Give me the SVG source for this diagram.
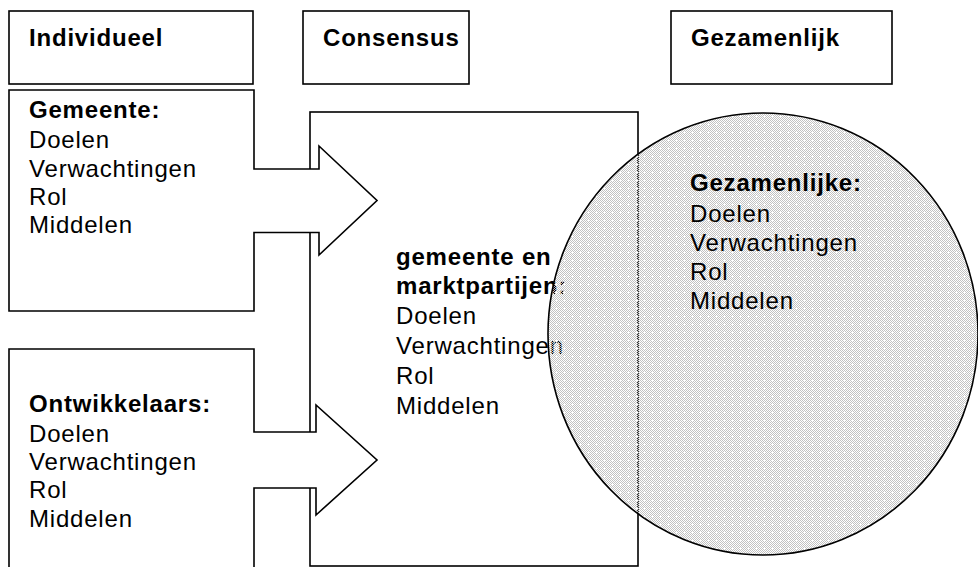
<svg xmlns="http://www.w3.org/2000/svg" width="978" height="567" viewBox="0 0 978 567">
  <defs>
    <pattern id="checker" patternUnits="userSpaceOnUse" width="2" height="2">
      <rect x="0" y="0" width="1" height="1" fill="#c2c2c2"/>
      <rect x="1" y="1" width="1" height="1" fill="#c2c2c2"/>
    </pattern>
    <pattern id="dots" patternUnits="userSpaceOnUse" width="8" height="8">
      <rect x="0" y="0" width="8" height="8" fill="url(#checker)"/>
      <rect x="3" y="4" width="3" height="1" fill="#ffffff"/>
      <rect x="4" y="3" width="1" height="3" fill="#ffffff"/>
    </pattern>
    <style>
      .box { fill: #ffffff; stroke: #000000; stroke-width: 1.6; }
      .t { font-family: "Liberation Sans", Arial, sans-serif; font-size: 24px; letter-spacing: 0.8px; fill: #000000; }
      .b { font-weight: bold; }
      .circle { fill: url(#dots); stroke: #000000; stroke-width: 1.6; }
    </style>
  </defs>
  <rect x="0" y="0" width="978" height="567" fill="#ffffff"/>

  <g id="hdr-individueel">
    <rect class="box" x="9" y="11" width="244" height="73"/>
    <text class="t b" x="29" y="46">Individueel</text>
  </g>
  <g id="hdr-consensus">
    <rect class="box" x="303" y="11" width="166" height="73"/>
    <text class="t b" x="323" y="46">Consensus</text>
  </g>
  <g id="hdr-gezamenlijk">
    <rect class="box" x="671" y="11" width="221" height="73"/>
    <text class="t b" x="691" y="46">Gezamenlijk</text>
  </g>

  <g id="consensus">
    <rect class="box" x="310" y="112" width="328" height="454"/>
    <text class="t b" x="396" y="265">gemeente en</text>
    <text class="t b" x="396" y="294">marktpartijen:</text>
    <text class="t" x="396" y="324">Doelen</text>
    <text class="t" x="396" y="354">Verwachtingen</text>
    <text class="t" x="396" y="384">Rol</text>
    <text class="t" x="396" y="414">Middelen</text>
  </g>

  <g id="gemeente">
    <path class="box" d="M9,90 H254 V169 H319 V146 L377,200.5 L319,255 V232.5 H254 V311 H9 Z"/>
    <text class="t b" x="29" y="118">Gemeente:</text>
    <text class="t" x="29" y="148">Doelen</text>
    <text class="t" x="29" y="176.5">Verwachtingen</text>
    <text class="t" x="29" y="204.5">Rol</text>
    <text class="t" x="29" y="233">Middelen</text>
  </g>

  <g id="ontwikkelaars">
    <path class="box" d="M9,349 H254 V432 H316 V405 L377,460 L316,515 V488 H254 V580 H9 Z"/>
    <text class="t b" x="29" y="412">Ontwikkelaars:</text>
    <text class="t" x="29" y="442">Doelen</text>
    <text class="t" x="29" y="470">Verwachtingen</text>
    <text class="t" x="29" y="498">Rol</text>
    <text class="t" x="29" y="527">Middelen</text>
  </g>

  <g id="gezamenlijke">
    <ellipse class="circle" cx="763" cy="334" rx="215" ry="221"/>
    <text class="t b" x="690" y="191">Gezamenlijke:</text>
    <text class="t" x="690" y="221.5">Doelen</text>
    <text class="t" x="690" y="250.5">Verwachtingen</text>
    <text class="t" x="690" y="280">Rol</text>
    <text class="t" x="690" y="309">Middelen</text>
  </g>

  <g id="connectors"></g>
</svg>
